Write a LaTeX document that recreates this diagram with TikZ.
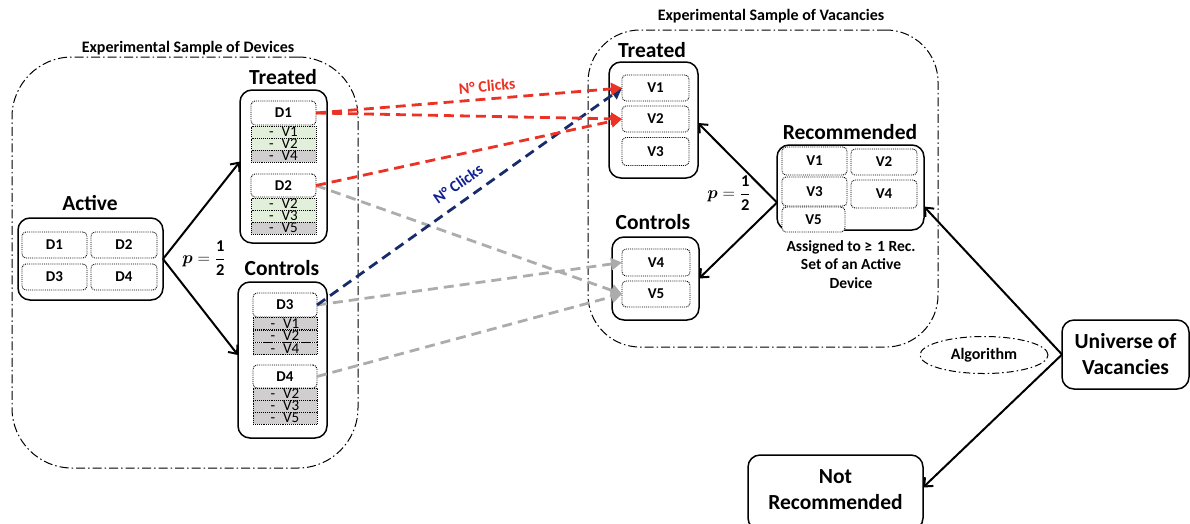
\documentclass[tikz,border=0pt]{standalone}
\usepackage{fontspec}
\setmainfont{Carlito}
\usetikzlibrary{arrows.meta,shapes.geometric}
\definecolor{redc}{RGB}{236,50,36}
\definecolor{navyc}{RGB}{24,44,108}
\definecolor{grayc}{RGB}{172,172,172}
\definecolor{greenf}{RGB}{226,239,218}
\definecolor{grayf}{RGB}{208,206,206}
\newcommand{\halfprob}{\ensuremath{\boldsymbol{p}=\displaystyle\frac{\mathbf{1}}{\mathbf{2}}}}
\usepackage{amsmath,amsbsy}
\begin{document}
\begin{tikzpicture}[x=1pt,y=-1pt,
  sample/.style={draw, line width=1pt, dash pattern=on 9pt off 3pt on 1.5pt off 3pt, rounded corners=60pt, inner sep=0pt, outer sep=0pt},
  grp/.style={draw, line width=1.5pt, rounded corners=12pt, inner sep=0pt, outer sep=0pt},
  item/.style={draw, densely dotted, line width=0.9pt, rounded corners=4pt, fill=white, inner sep=0pt, outer sep=0pt, font=\bfseries\fontsize{15}{16}\selectfont},
  rowg/.style={draw, densely dotted, line width=0.9pt, fill=greenf, inner sep=0pt, outer sep=0pt, minimum height=12pt, text height=9pt, text depth=0pt, font=\fontsize{15}{12}\selectfont},
  rowd/.style={rowg, fill=grayf},
  head/.style={font=\bfseries\fontsize{21.5}{24}\selectfont, inner sep=0pt},
  small/.style={font=\bfseries\fontsize{16}{18}\selectfont, inner sep=0pt},
  note/.style={font=\bfseries\fontsize{15.5}{18.5}\selectfont, inner sep=0pt, align=center},
  prob/.style={font=\fontsize{16.5}{18}\selectfont, inner sep=0pt},
  clicklab/.style={font=\bfseries\fontsize{16}{18}\selectfont, inner sep=0pt},
  solidarrow/.style={line width=2pt, -{Straight Barb[length=7pt,width=12pt,line width=2pt]}},
  clickarrow/.style={line width=2.8pt, dash pattern=on 10pt off 6pt, -{Triangle[length=11pt,width=12pt]}},
]
\useasboundingbox (0,0) rectangle (1190,523);

% ---- sample boxes
\node[sample, minimum width=346pt, minimum height=411pt] (sdev) at (185,262.5) {};
\node[small] (sdevlab) at (188,48) {Experimental Sample of Devices};
\node[sample, rounded corners=52pt, minimum width=350pt, minimum height=317pt] (svac) at (763,188.5) {};
\node[small] (svaclab) at (771,16) {Experimental Sample of Vacancies};

% ---- Active
\node[head] (actlab) at (90,203) {Active};
\node[grp, minimum width=145pt, minimum height=82pt] (act) at (90.5,259) {};
\node[item, minimum width=65pt, minimum height=26pt] (a1) at (54.5,245) {D1};
\node[item, minimum width=66pt, minimum height=26pt] (a2) at (124,245) {D2};
\node[item, minimum width=65pt, minimum height=26pt] (a3) at (54.5,277) {D3};
\node[item, minimum width=66pt, minimum height=26pt] (a4) at (124,277) {D4};

% ---- Treated devices
\node[head] (ltlab) at (283,77) {Treated};
\node[grp, minimum width=87pt, minimum height=153pt] (lt) at (283.5,166.5) {};
\node[item, minimum width=65pt, minimum height=24pt] (d1) at (283.5,113) {D1};
\node[rowg, minimum width=65pt] (d1r1) at (283.5,132) {-\hspace{8pt}V1};
\node[rowg, minimum width=65pt] (d1r2) at (283.5,144) {-\hspace{8pt}V2};
\node[rowd, minimum width=65pt] (d1r3) at (283.5,156) {-\hspace{8pt}V4};
\node[item, minimum width=65pt, minimum height=23pt] (d2) at (283.5,185.5) {D2};
\node[rowg, minimum width=65pt] (d2r1) at (283.5,204) {-\hspace{8pt}V2};
\node[rowg, minimum width=65pt] (d2r2) at (283.5,216) {-\hspace{8pt}V3};
\node[rowd, minimum width=65pt] (d2r3) at (283.5,228) {-\hspace{8pt}V5};

% ---- Control devices
\node[head] (lclab) at (282,268) {Controls};
\node[grp, minimum width=89pt, minimum height=156pt] (lc) at (282.5,360) {};
\node[item, minimum width=64pt, minimum height=24pt] (d3) at (285,305) {D3};
\node[rowd, minimum width=64pt] (d3r1) at (285,323.5) {-\hspace{8pt}V1};
\node[rowd, minimum width=64pt] (d3r2) at (285,336) {-\hspace{8pt}V2};
\node[rowd, minimum width=64pt] (d3r3) at (285,348.5) {-\hspace{8pt}V4};
\node[item, minimum width=64pt, minimum height=23pt] (d4) at (285,376.5) {D4};
\node[rowd, minimum width=64pt] (d4r1) at (285,394) {-\hspace{8pt}V2};
\node[rowd, minimum width=64pt] (d4r2) at (285,406) {-\hspace{8pt}V3};
\node[rowd, minimum width=64pt] (d4r3) at (285,418) {-\hspace{8pt}V5};

\node[prob] (p1) at (204,258) {\halfprob};

% ---- Treated vacancies
\node[head] (rtlab) at (652,50) {Treated};
\node[grp, minimum width=89pt, minimum height=116pt] (rt) at (653.5,120) {};
\node[item, minimum width=67pt, minimum height=26pt] (tv1) at (655.5,88) {V1};
\node[item, minimum width=67pt, minimum height=26pt] (tv2) at (655.5,119) {V2};
\node[item, minimum width=67pt, minimum height=28pt] (tv3) at (655.5,151.5) {V3};

% ---- Control vacancies
\node[head] (rclab) at (653,222) {Controls};
\node[grp, minimum width=87pt, minimum height=83pt] (rc) at (655.5,278.5) {};
\node[item, minimum width=68pt, minimum height=27pt] (cv4) at (656,262.5) {V4};
\node[item, minimum width=68pt, minimum height=26pt] (cv5) at (656,294) {V5};

\node[prob] (p2) at (729,193) {\halfprob};

% ---- Recommended
\node[head] (reclab) at (850,132) {Recommended};
\node[grp, minimum width=147pt, minimum height=85pt] (rec) at (850.5,187.5) {};
\node[item, minimum width=65pt, minimum height=28pt] (rv1) at (814.5,161) {V1};
\node[item, minimum width=66pt, minimum height=26pt] (rv2) at (884,162) {V2};
\node[item, minimum width=65pt, minimum height=29pt] (rv3) at (814.5,191.5) {V3};
\node[item, minimum width=66pt, minimum height=28pt] (rv4) at (884,194) {V4};
\node[item, minimum width=63pt, minimum height=25pt] (rv5) at (813.5,219.5) {V5};
\node[note] (assig) at (851,264.5) {Assigned to ≥\hspace{5pt}1 Rec.\\Set of an Active\\Device};

% ---- Universe, Algorithm, Not recommended
\node[grp, minimum width=127pt, minimum height=69pt, align=center, font=\bfseries\fontsize{21.5}{26}\selectfont] (univ) at (1125.5,354.5) {Universe of\\Vacancies};
\node[draw, ellipse, line width=1pt, dash pattern=on 7pt off 3pt on 1.5pt off 3pt, minimum width=128pt, minimum height=37pt, inner sep=0pt, font=\bfseries\fontsize{16}{18}\selectfont] (algo) at (984,355) {Algorithm};
\node[grp, minimum width=175pt, minimum height=75pt] (notrec) at (835.5,492.5) {};
\node[head, align=center, font=\bfseries\fontsize{21.5}{26}\selectfont] (notreclab) at (835.5,490) {Not\\Recommended};

% ---- solid arrows
\draw[solidarrow] (act.east) -- ([yshift=5pt]lt.west);
\draw[solidarrow] (act.east) -- ([yshift=5pt]lc.west);
\draw[solidarrow] ([yshift=-15pt]rec.west) -- ([yshift=-3pt]rt.east);
\draw[solidarrow] ([yshift=-15pt]rec.west) -- (rc.east);
\draw[solidarrow] (univ.west) -- ([yshift=-19pt]rec.east);
\draw[solidarrow] (univ.west) -- ([yshift=5pt]notrec.east);

% ---- click arrows
\draw[clickarrow, grayc] (d2.east) -- (cv5.west);
\draw[clickarrow, grayc] (d3.east) -- (cv4.west);
\draw[clickarrow, grayc] (d4.east) -- (cv5.west);
\draw[clickarrow, navyc] (d3.east) -- (tv1.west);
\draw[clickarrow, redc] (d1.east) -- (tv1.west);
\draw[clickarrow, redc] (d1.east) -- (tv2.west);
\draw[clickarrow, redc] (d2.east) -- (tv2.west);

\node[clicklab, text=redc, rotate=5] (clk1) at (487,86) {N° Clicks};
\node[clicklab, text=navyc!75!blue, rotate=35] (clk2) at (458,184) {N° Clicks};
\end{tikzpicture}
\end{document}
